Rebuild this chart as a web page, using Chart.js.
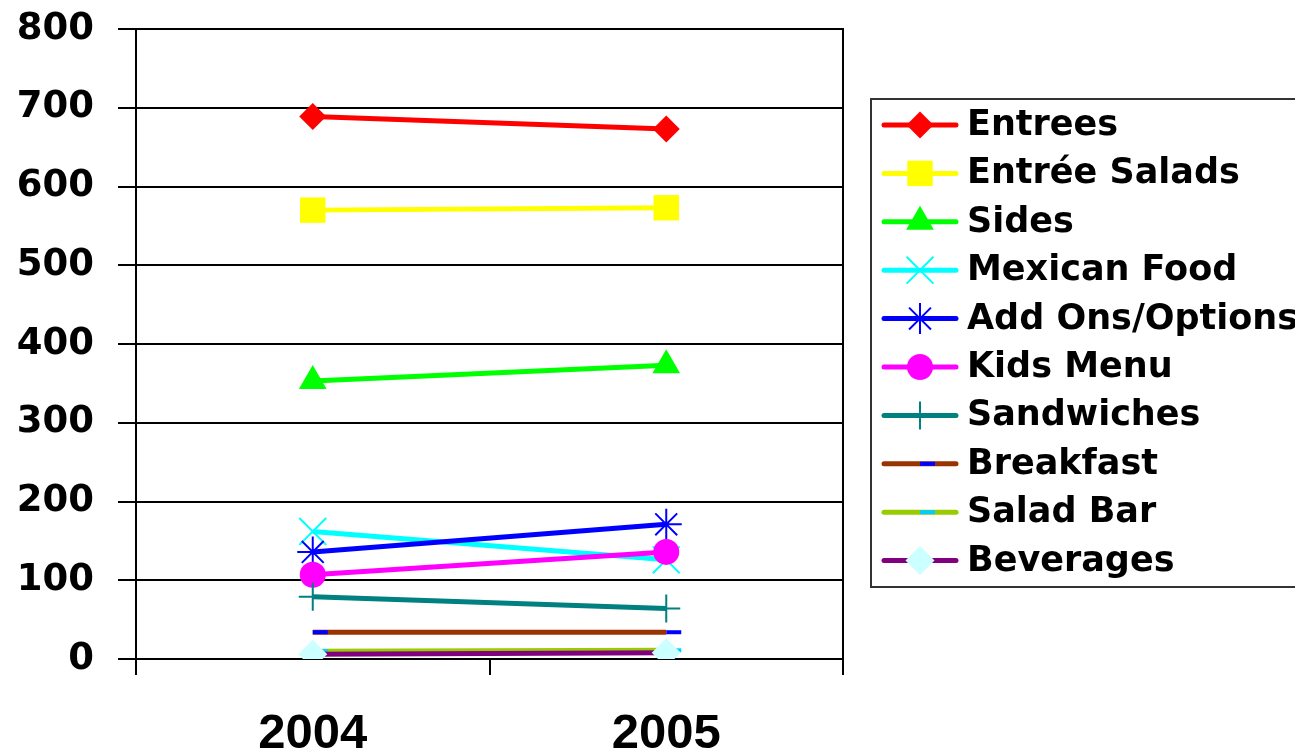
<!DOCTYPE html>
<html>
<head>
<meta charset="utf-8">
<script src="https://cdn.jsdelivr.net/npm/chart.js@4"></script>
<style>
  html,body{margin:0;padding:0;background:#fff;overflow:hidden}
  #wrap{width:1295px;height:753px;position:relative}
</style>
</head>
<body>
<div id="wrap"><canvas id="grafico"></canvas></div>
<script>
// data
const anos = ['2004','2005'];
const seriesNames = ['Entrees','Entrée Salads','Sides','Mexican Food','Add Ons/Options','Kids Menu','Sandwiches','Breakfast','Salad Bar','Beverages'];
const entrees     = [689, 673];
const entreeSalads= [570, 573];
const sides       = [353, 373];
const mexican     = [162, 126];
const addOns      = [136, 171];
const kids        = [107, 136];
const sandwiches  = [79, 64];
const breakfast   = [34, 34];
const saladBar    = [10, 11];
const beverages   = [6, 8];
const yTicks = [0,100,200,300,400,500,600,700,800];

const valores = [entrees,entreeSalads,sides,mexican,addOns,kids,sandwiches,breakfast,saladBar,beverages];

// line colour, marker style / size / fill / stroke
const estilos = [
  {cor:'#ff0000', ps:'rectRot',  r:13.5, fill:'#ff0000', bw:0},
  {cor:'#ffff00', ps:'rect',     r:18, fill:'#ffff00', bw:0},
  {cor:'#00ff00', ps:'triangle', r:16, fill:'#00ff00', bw:0},
  {cor:'#00ffff', ps:'crossRot', r:19, fill:'#00ffff', bw:2},
  {cor:'#0000ff', ps:'star',     r:15.5, fill:'#0000ff', bw:2},
  {cor:'#ff00ff', ps:'circle',   r:13, fill:'#ff00ff', bw:0},
  {cor:'#008080', ps:'cross',    r:14, fill:'#008080', bw:2},
  {cor:'#993300', ps:'dash',     r:15, fill:'#0000ff', bw:4},
  {cor:'#99cc00', ps:'dash',     r:15, fill:'#00ccff', bw:4},
  {cor:'#800080', ps:'rectRot',  r:14.5, fill:'#ccffff', bw:0}
];

const datasets = seriesNames.map((nome,i)=>{
  const e = estilos[i];
  return {
    label: nome,
    data: valores[i],
    borderColor: e.cor,
    borderWidth: 5,
    pointStyle: e.ps,
    pointRadius: e.r,
    pointHoverRadius: e.r,
    pointBackgroundColor: e.fill,
    pointBorderColor: e.fill,
    pointBorderWidth: e.bw,
    order: seriesNames.length - i
  };
});

// plot area frame
const moldura = {
  id:'moldura',
  beforeDatasetsDraw(c){
    const a = c.chartArea, ctx = c.ctx;
    ctx.save();
    ctx.strokeStyle = '#000';
    ctx.lineWidth = 2;
    ctx.strokeRect(a.left, a.top, a.right - a.left, a.bottom - a.top);
    ctx.restore();
  }
};

// legend drawn by hand (box runs off the right edge like the original)
const legenda = {
  id:'legenda',
  afterDraw(c){
    const ctx = c.ctx;
    ctx.save();
    ctx.strokeStyle = '#333';
    ctx.lineWidth = 2;
    ctx.strokeRect(871, 99, 500, 488);
    c.data.datasets.forEach((ds,i)=>{
      const y = 125 + i*48.4;
      ctx.strokeStyle = ds.borderColor;
      ctx.lineWidth = 5;
      ctx.lineCap = 'round';
      ctx.beginPath();
      ctx.moveTo(884, y);
      ctx.lineTo(956, y);
      ctx.stroke();
      ctx.lineCap = 'butt';
      ctx.fillStyle = ds.pointBackgroundColor;
      ctx.strokeStyle = ds.pointBorderColor;
      ctx.lineWidth = ds.pointBorderWidth;
      Chart.helpers.drawPoint(ctx, {
        pointStyle: ds.pointStyle,
        radius: ds.pointRadius,
        rotation: 0,
        borderWidth: ds.pointBorderWidth
      }, 920, y);
      ctx.fillStyle = '#000';
      ctx.font = "bold 35px 'DejaVu Sans'";
      ctx.textBaseline = 'middle';
      ctx.textAlign = 'left';
      ctx.fillText(ds.label, 967, y + 1);
    });
    ctx.restore();
  }
};

new Chart(grafico, {
  type:'line',
  data:{ labels: anos, datasets },
  plugins:[moldura, legenda],
  options:{
    responsive:true,
    maintainAspectRatio:false,
    animation:false,
    layout:{ padding:{ top:29, right:452, bottom:0, left:0 } },
    plugins:{ legend:{display:false}, tooltip:{enabled:false} },
    scales:{
      x:{
        offset:true,
        afterFit(s){ s.height = 94; s.paddingLeft = 0; s.paddingRight = 0; },
        grid:{ offset:true, drawOnChartArea:false, drawTicks:true, tickLength:16, color:'#000', lineWidth:2 },
        border:{ display:true, color:'#000', width:2 },
        ticks:{ color:'#000', padding:30, font:{ family:'Liberation Sans', weight:'bold', size:49 } }
      },
      y:{
        min:0, max:800,
        afterFit(s){ s.width = 136; s.paddingTop = 0; s.paddingBottom = 0; },
        afterBuildTicks(s){ s.ticks = yTicks.map(v=>({value:v})); },
        grid:{ color:'#000', lineWidth:2, tickLength:18 },
        border:{ display:true, color:'#000', width:2 },
        ticks:{ color:'#000', padding:24, font:{ family:'DejaVu Sans', weight:'bold', size:37 } }
      }
    }
  }
});
</script>
</body>
</html>
